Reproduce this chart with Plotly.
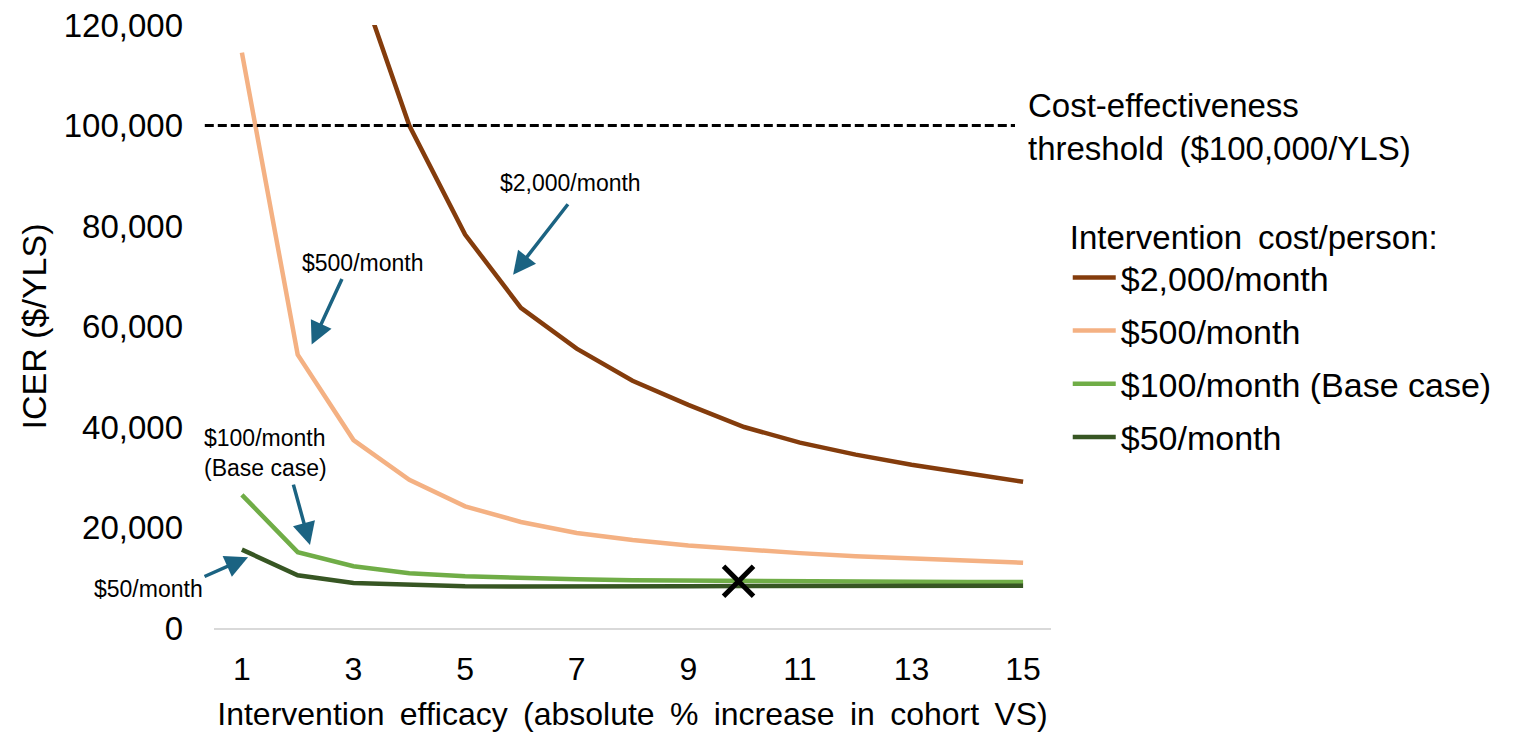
import plotly.graph_objects as go

# Intervention efficacy (absolute % increase in cohort VS)
efficacy = list(range(1, 16))

# ICER ($/YLS) by monthly intervention cost per person
icer_2000 = [400000, 200000, 132000, 100000, 78300, 63700, 55600, 49200, 44400,
             40000, 36900, 34500, 32500, 30700, 29100]
icer_500 = [114500, 54400, 37400, 29500, 24200, 21100, 18900, 17500, 16400,
            15600, 14900, 14300, 13900, 13500, 13000]
icer_100 = [26500, 15100, 12300, 10900, 10300, 9900, 9700, 9500, 9400,
            9300, 9250, 9200, 9200, 9150, 9150]
icer_50 = [15600, 10500, 8950, 8550, 8300, 8250, 8200, 8250, 8300,
           8350, 8400, 8400, 8400, 8400, 8400]

series_names = ["$2,000/month", "$500/month", "$100/month (Base case)", "$50/month"]
series_values = [icer_2000, icer_500, icer_100, icer_50]
series_colors = ["#843c0c", "#f4b183", "#70ad47", "#375623"]

threshold = 100000
base_case_efficacy = 9.9
base_case_icer = 9300

y_ticks = [0, 20000, 40000, 60000, 80000, 100000, 120000]
x_ticks = [1, 3, 5, 7, 9, 11, 13, 15]

FONT = "Arial, Liberation Sans, sans-serif"
ARROW = "#1b6382"
WIDE = " \u2009"  # slightly wider word gap used in the larger captions


def spaced(s):
    return s.replace(" ", WIDE)


fig = go.Figure()

for i, (name, vals, col) in enumerate(zip(series_names, series_values, series_colors)):
    fig.add_trace(go.Scatter(
        x=efficacy, y=vals, mode="lines", name=name,
        line=dict(color=col, width=4.5),
        legendgroup=f"g{i}",
    ))

# Base-case marker
fig.add_trace(go.Scatter(
    x=[base_case_efficacy], y=[base_case_icer], mode="markers",
    marker=dict(symbol="x-thin", size=30, color="black",
                line=dict(color="black", width=5)),
    showlegend=False, cliponaxis=False,
))

# Cost-effectiveness threshold
fig.add_shape(type="line", xref="paper", yref="y",
              x0=-0.011, x1=0.957, y0=threshold, y1=threshold,
              line=dict(color="black", width=2.8, dash="9px,4px"), layer="above")

fig.add_annotation(xref="paper", yref="y", x=0.97, y=threshold - 300,
                   text="Cost-effectiveness<br>threshold" + WIDE + "($100,000/YLS)",
                   showarrow=False, xanchor="left", yanchor="middle", align="left",
                   font=dict(family=FONT, size=33, color="black"))

# Series labels with pointer arrows
labels = [
    dict(text="$2,000/month", x=6.88, y=88600, xref="x"),
    dict(text="$500/month", x=3.17, y=72700, xref="x"),
    dict(text="$100/month<br>(Base case)", x=1.43, y=34900, xref="x"),
    dict(text="$50/month", x=-0.078, y=7800, xref="paper"),
]
for lab in labels:
    fig.add_annotation(xref=lab["xref"], yref="y", x=lab["x"], y=lab["y"],
                       text=lab["text"], showarrow=False, align="left",
                       xanchor="center", yanchor="middle",
                       font=dict(family=FONT, size=23, color="black"))

arrows = [
    dict(x=5.86, y=70300, ax=56, ay=-72),
    dict(x=2.25, y=56400, ax=31, ay=-67),
    dict(x=2.22, y=16500, ax=-17, ay=-62),
    dict(x=1.11, y=14100, ax=-45, ay=20),
]
for a in arrows:
    fig.add_annotation(x=a["x"], y=a["y"], ax=a["ax"], ay=a["ay"], text="",
                       showarrow=True, arrowhead=2, arrowsize=1.3, arrowwidth=3.5,
                       arrowcolor=ARROW, standoff=0)

fig.update_layout(
    width=1527, height=734,
    margin=dict(l=214, r=476, t=25, b=106, autoexpand=False),
    paper_bgcolor="white", plot_bgcolor="white",
    font=dict(family=FONT, color="black"),
    showlegend=True,
    legend=dict(
        x=1.02, y=0.70, xanchor="left", yanchor="top",
        title=dict(text=spaced("Intervention cost/person:"), font=dict(size=33, family=FONT)),
        font=dict(size=34, family=FONT),
        traceorder="grouped", tracegroupgap=6, itemwidth=43,
        bgcolor="rgba(0,0,0,0)",
    ),
    xaxis=dict(
        range=[0.5, 15.5], tickvals=x_ticks, ticktext=[str(t) for t in x_ticks],
        showgrid=False, zeroline=False, showline=True, linecolor="#d9d9d9", linewidth=1.5,
        ticks="", ticklabelstandoff=12,
        tickfont=dict(size=32, family=FONT),
        title=dict(text=spaced("Intervention efficacy (absolute % increase in cohort VS)"),
                   font=dict(size=32, family=FONT), standoff=16),
        automargin=False,
    ),
    yaxis=dict(
        range=[0, 120000], tickvals=y_ticks, tickformat=",d",
        showgrid=False, zeroline=False, showline=False,
        ticks="", ticklabelstandoff=30,
        tickfont=dict(size=33, family=FONT),
        title=dict(text="ICER ($/YLS)", font=dict(size=34, family=FONT), standoff=6),
        automargin=False,
    ),
)

fig.write_html("out.html")
